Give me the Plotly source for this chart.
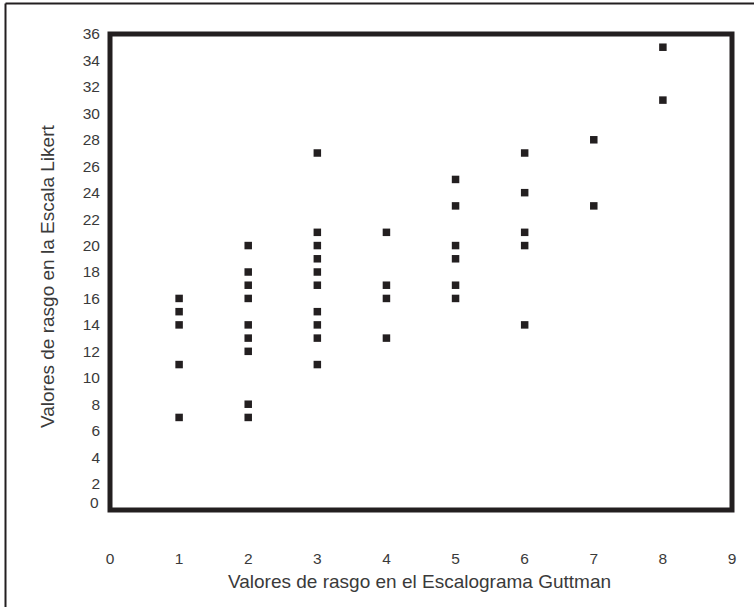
import plotly.graph_objects as go

# Data (x = Guttman, y = Likert)
guttman = [1, 1, 1, 1, 1,
           2, 2, 2, 2, 2, 2, 2, 2, 2,
           3, 3, 3, 3, 3, 3, 3, 3, 3, 3,
           4, 4, 4, 4,
           5, 5, 5, 5, 5, 5,
           6, 6, 6, 6, 6,
           7, 7,
           8, 8]
likert = [16, 15, 14, 11, 7,
          20, 18, 17, 16, 14, 13, 12, 8, 7,
          27, 21, 20, 19, 18, 17, 15, 14, 13, 11,
          21, 17, 16, 13,
          25, 23, 20, 19, 17, 16,
          27, 24, 21, 20, 14,
          28, 23,
          35, 31]

x_ticks = list(range(0, 10))
y_ticks = list(range(2, 37, 2))

W, H = 754, 607
L, R, T, B = 110, 22, 34, 97
pw, ph = W - L - R, H - T - B

def px_x(px):
    return (px - L) / pw

def px_y(py):
    return (H - B - py) / ph

ink = "#231f20"
txt = "#3a3a3a"
font = "Liberation Sans, Arial, sans-serif"
tick_size = 15.5

fig = go.Figure()
fig.add_trace(go.Scatter(
    x=guttman, y=likert, mode="markers",
    marker=dict(symbol="square", size=7.5, color=ink, line=dict(width=0)),
    showlegend=False, hoverinfo="x+y"))

fig.update_layout(
    template="none",
    width=W, height=H,
    margin=dict(l=L, r=R, t=T, b=B),
    paper_bgcolor="white", plot_bgcolor="white",
    font=dict(family=font, color=txt, size=tick_size),
    xaxis=dict(range=[0, 9], tickvals=x_ticks, ticktext=[str(v) for v in x_ticks],
               showgrid=False, zeroline=False, showline=False, ticks="",
               ticklabelstandoff=37, tickfont=dict(family=font, size=tick_size, color=txt)),
    yaxis=dict(range=[0, 36], tickvals=y_ticks, ticktext=[str(v) for v in y_ticks],
               showgrid=False, zeroline=False, showline=False, ticks="",
               ticklabelstandoff=9, tickfont=dict(family=font, size=tick_size, color=txt)),
    shapes=[
        dict(type="rect", xref="paper", yref="paper", x0=0, x1=1, y0=0, y1=1,
             line=dict(color=ink, width=5), layer="above"),
        dict(type="line", xref="paper", yref="paper",
             x0=px_x(5.5), x1=px_x(760), y0=px_y(3.5), y1=px_y(3.5),
             line=dict(color=ink, width=2)),
        dict(type="line", xref="paper", yref="paper",
             x0=px_x(5.5), x1=px_x(5.5), y0=px_y(3.5), y1=px_y(615),
             line=dict(color=ink, width=2)),
    ],
    annotations=[
        dict(text="0", xref="paper", yref="paper", x=px_x(101), y=px_y(502),
             xanchor="right", yanchor="middle", showarrow=False,
             font=dict(family=font, size=tick_size, color=txt)),
        dict(text="Valores de rasgo en el Escalograma Guttman", xref="paper", yref="paper",
             x=px_x(419), y=px_y(581), xanchor="center", yanchor="middle",
             showarrow=False, font=dict(family=font, size=19, color=txt)),
        dict(text="Valores de rasgo en la Escala Likert", xref="paper", yref="paper",
             x=px_x(47), y=px_y(277), xanchor="center", yanchor="middle", textangle=-90,
             showarrow=False, font=dict(family=font, size=19, color=txt)),
    ],
)

fig.write_html("out.html")
